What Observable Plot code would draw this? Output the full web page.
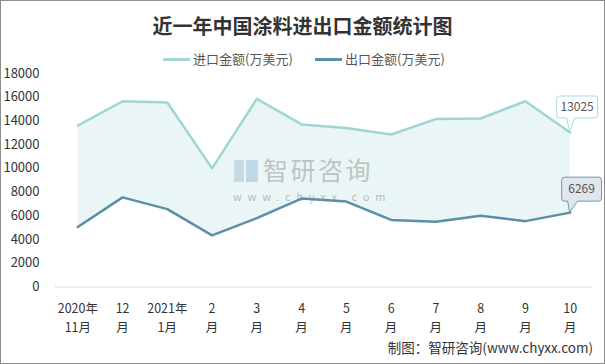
<!DOCTYPE html>
<html><head><meta charset="utf-8">
<script src="https://cdn.jsdelivr.net/npm/d3@7"></script>
<script src="https://cdn.jsdelivr.net/npm/@observablehq/plot@0.6"></script>
<style>
body{margin:0;background:#fff;}
#wrap{position:relative;width:605px;height:364px;box-sizing:border-box;border:1px solid #8c8c8c;overflow:hidden;font-family:"Noto Sans CJK SC","Noto Sans",sans-serif;background:#fff;}
#chart{position:absolute;left:-1px;top:-1px;}
#title{position:absolute;left:0;top:10px;width:603px;text-align:center;font-size:20px;font-weight:bold;color:#333;}
.leg{position:absolute;top:48px;font-size:13px;color:#555;white-space:nowrap;}
.leg span.sw{display:inline-block;width:27px;height:3px;vertical-align:middle;margin-right:3px;position:relative;top:-1px;}
#caption{position:absolute;right:11px;top:336px;font-size:13.5px;color:#333;}
#wm{position:absolute;left:232px;top:157px;opacity:0.55;pointer-events:none;line-height:1;}
#wm .t{position:absolute;left:30px;top:-1px;font-size:25px;line-height:25px;color:#9a9a9a;letter-spacing:2.5px;white-space:nowrap;}
#wm .u{position:absolute;left:0;top:33px;font-size:11px;line-height:11px;color:#8a8a8a;letter-spacing:5.8px;white-space:nowrap;}
#wm .l1{position:absolute;left:1px;top:2px;width:10px;height:22px;background:#a9c3d6;}
#wm .l2{position:absolute;left:13px;top:2px;width:12px;height:22px;background:#9cc3dd;}
</style></head>
<body>
<div id="wrap">
  <div id="chart"></div>
  <div id="title">近一年中国涂料进出口金额统计图</div>
  <div class="leg" style="left:162px"><span class="sw" style="background:#a3d8d5"></span>进口金额(万美元)</div>
  <div class="leg" style="left:314px"><span class="sw" style="background:#5a8fa6"></span>出口金额(万美元)</div>
  <div id="wm"><div class="l1"></div><div class="l2"></div><div class="t">智研咨询</div><div class="u">www.chyxx.com</div></div>
  <div id="caption">制图：智研咨询(www.chyxx.com)</div>
</div>
<script>
const months = ["2020年\n11月","12\n月","2021年\n1月","2\n月","3\n月","4\n月","5\n月","6\n月","7\n月","8\n月","9\n月","10\n月"];
const importValues = [13600,15650,15550,10000,15850,13700,13400,12850,14150,14200,15650,13025];
const exportValues = [5050,7550,6560,4350,5800,7450,7200,5650,5500,6000,5550,6269];
const yTicks = [0,2000,4000,6000,8000,10000,12000,14000,16000,18000];

const data = months.map((m,i)=>({m, imp:importValues[i], exp:exportValues[i]}));
const last = data[data.length-1];

function callout(key, fill, stroke, box, ptr){
  return (index, scales) => {
    const px = scales.x(last.m), py = scales.y(last[key]);
    const [x0,x1,y0,y1] = box, r = 3;
    const [b0,b1] = ptr;
    const g = d3.create("svg:g");
    const p = `M${px+x0+r},${py+y0} H${px+x1-r} Q${px+x1},${py+y0} ${px+x1},${py+y0+r} V${py+y1-r} Q${px+x1},${py+y1} ${px+x1-r},${py+y1} H${px+b1} L${px},${py} L${px+b0},${py+y1} H${px+x0+r} Q${px+x0},${py+y1} ${px+x0},${py+y1-r} V${py+y0+r} Q${px+x0},${py+y0} ${px+x0+r},${py+y0} Z`;
    g.append("path").attr("d",p).attr("fill",fill).attr("stroke",stroke).attr("stroke-width",1);
    g.append("text").attr("x",px+(x0+x1)/2).attr("y",py+(y0+y1)/2).attr("text-anchor","middle")
      .attr("dy","0.35em").attr("font-size",12).attr("fill","#555")
      .attr("font-family","'Noto Sans CJK SC',sans-serif").text(String(last[key]));
    return g.node();
  };
}

const chart = Plot.plot({
  width:605, height:364,
  marginTop:73, marginBottom:77, marginLeft:55, marginRight:12,
  style:{fontFamily:"'Noto Sans CJK SC',sans-serif", color:"#333", background:"transparent"},
  x:{type:"point", domain:months, padding:0.5, round:false},
  y:{domain:[0,18000]},
  marks:[
    Plot.areaY(data,{x:"m", y1:"exp", y2:"imp", fill:"#eaf6f6"}),
    Plot.ruleY([0],{stroke:"#d9d9d9", strokeWidth:1}),
    Plot.lineY(data,{x:"m", y:"imp", stroke:"#9fd6d3", strokeWidth:2.5}),
    Plot.lineY(data,{x:"m", y:"exp", stroke:"#5a8fa6", strokeWidth:2.5}),
    Plot.axisY({ticks:yTicks, tickSize:0, tickPadding:16, fontSize:13, label:null, tickFormat:d=>String(d)}),
    Plot.axisX({tickSize:0, tickPadding:13, fontSize:12.5, lineHeight:1.5, label:null}),
    callout("imp","#ffffff","#a8dcd9",[-13,28,-36,-14],[-3,5]),
    callout("exp","#dfe7ed","#6a98ad",[-8,32,-35,-11],[-2,8])
  ]
});
document.getElementById("chart").appendChild(chart);
</script>
</body></html>
